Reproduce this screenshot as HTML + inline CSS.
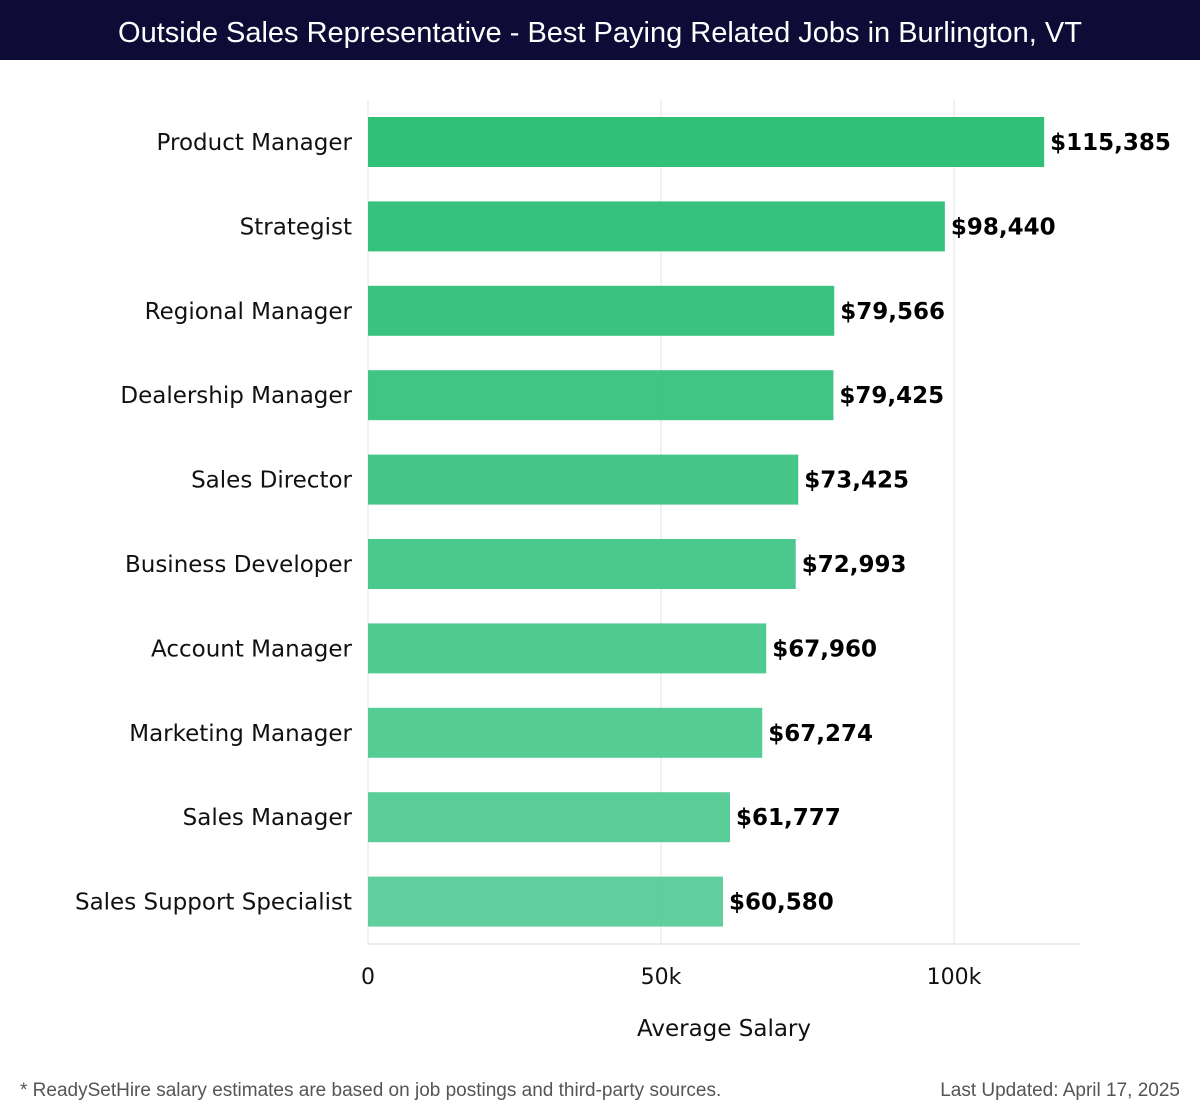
<!DOCTYPE html>
<html><head><meta charset="utf-8"><style>
body{margin:0;width:1200px;height:1120px;background:#fff;font-family:"DejaVu Sans","Liberation Sans",sans-serif;overflow:hidden;position:relative}
#hdr{position:absolute;left:0;top:0;width:1200px;height:60px;background:#0e0c36;color:#fff;font-family:"Liberation Sans",sans-serif;font-size:29px;text-align:center;line-height:66px}
.foot{position:absolute;top:1080px;font-family:"Liberation Sans",sans-serif;font-size:19px;color:#555}
</style></head><body>
<div id="hdr">Outside Sales Representative - Best Paying Related Jobs in Burlington, VT</div>
<svg id="chart" width="1200" height="1070" style="position:absolute;left:0;top:0"></svg>
<div class="foot" style="left:20px">* ReadySetHire salary estimates are based on job postings and third-party sources.</div>
<div class="foot" style="right:20px">Last Updated: April 17, 2025</div>
<script>
const categories=["Product Manager","Strategist","Regional Manager","Dealership Manager","Sales Director","Business Developer","Account Manager","Marketing Manager","Sales Manager","Sales Support Specialist"];
const values=[115385,98440,79566,79425,73425,72993,67960,67274,61777,60580];
const valueLabels=["$115,385","$98,440","$79,566","$79,425","$73,425","$72,993","$67,960","$67,274","$61,777","$60,580"];
const ticks=[0,50000,100000];
const tickLabels=["0","50k","100k"];
const NS="http://www.w3.org/2000/svg";
const svg=document.getElementById('chart');
const x0=368,pxPer=(954-368)/100000;
const xs=v=>x0+v*pxPer;
const top0=100,step=84.4,barH=50;
const yb=i=>top0+17+i*step;
function mk(t,a){const e=document.createElementNS(NS,t);for(const k in a)e.setAttribute(k,a[k]);svg.appendChild(e);return e;}
ticks.forEach((t,i)=>{
 const g=mk('line',{x1:xs(t),x2:xs(t),y1:100,y2:944,stroke:'#e3e3e3','stroke-width':1});
 
 
 const tl=mk('text',{x:xs(t),y:984,'text-anchor':'middle','font-size':22,fill:'#111'});
 tl.textContent=tickLabels[i];
 
 
});
const ax=mk('line',{x1:368,x2:1080,y1:944,y2:944,stroke:'#d8d8d8','stroke-width':1});


function col(i){const a=[41,190,116],b=[92,205,154];const f=i/(categories.length-1);return `rgb(${a.map((c,k)=>Math.round(c+(b[k]-c)*f)).join(',')})`;}
categories.forEach((c,i)=>{
 const y=yb(i);
 const r=mk('rect',{x:x0,y:y,width:xs(values[i])-x0,height:barH,fill:col(i),opacity:0.97});
 
 
 const l=mk('text',{x:352,y:y+barH/2+8,'text-anchor':'end','font-size':23,fill:'#111'});
 l.textContent=c;
 
 
 const v=mk('text',{x:xs(values[i])+6,y:y+barH/2+8,'font-size':23,'font-weight':'bold',fill:'#000'});
 v.textContent=valueLabels[i];
 
 
});
const at=mk('text',{x:724,y:1036,'text-anchor':'middle','font-size':23,fill:'#111'});
at.textContent="Average Salary";


</script>
</body></html>
